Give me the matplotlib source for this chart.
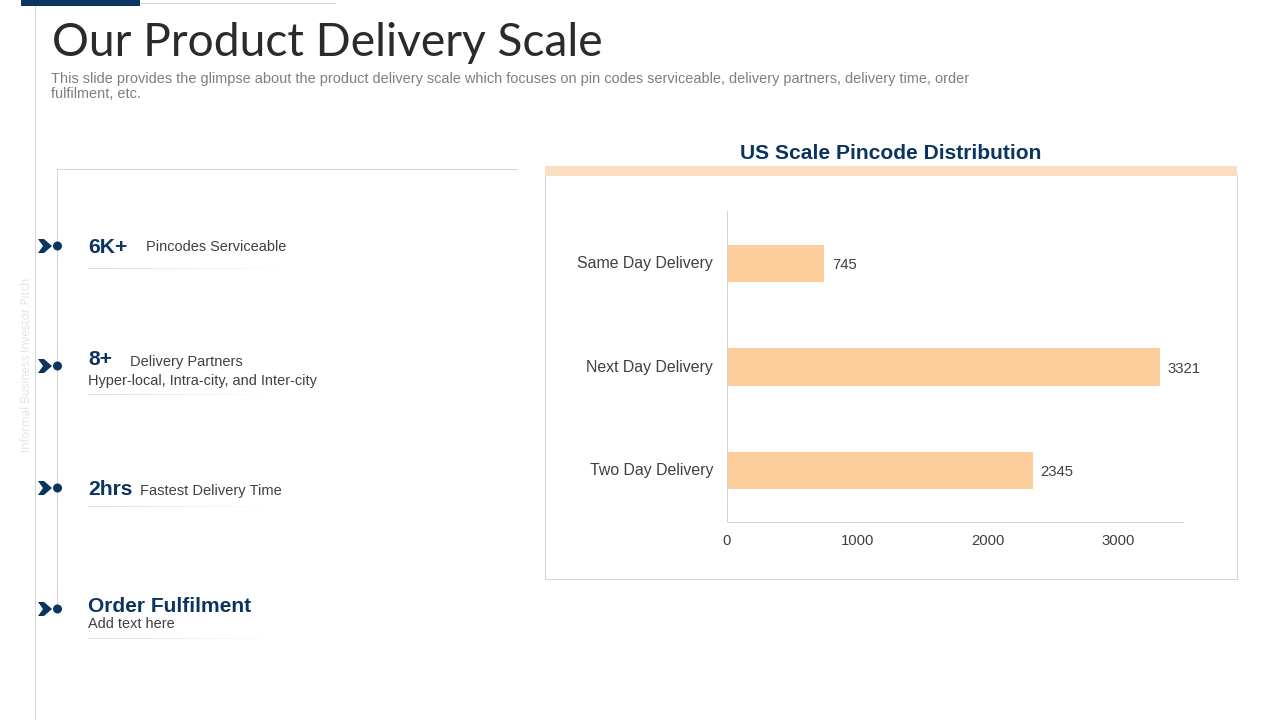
import matplotlib
matplotlib.use("Agg")
import matplotlib.pyplot as plt
from matplotlib.patches import Polygon, Circle, Rectangle

plt.rcParams["font.family"] = ["Liberation Sans", "DejaVu Sans"]

categories = ["Same Day Delivery", "Next Day Delivery", "Two Day Delivery"]
values = [745, 3321, 2345]
x_ticks = [0, 1000, 2000, 3000]

NAVY = "#0B3560"
BAR = "#FDCD9B"
BAND = "#FBDDBF"
LINE = "#D4D4D4"
TEXT = "#404040"
LW = 0.72  # one pixel at dpi 100

fig = plt.figure(figsize=(12.8, 7.2), dpi=100)
fig.patch.set_facecolor("white")

# slide layer in pixel coordinates, y going down
bg = fig.add_axes([0, 0, 1, 1])
bg.set_xlim(0, 1280)
bg.set_ylim(720, 0)
bg.axis("off")

bg.plot([21, 335], [3, 3], color=LINE, lw=LW)
bg.add_patch(Rectangle((21, 0), 119, 6, color=NAVY, lw=0, zorder=3))
bg.plot([35, 35], [0, 720], color=LINE, lw=LW)
bg.plot([57, 57], [169, 609], color=LINE, lw=LW)
bg.plot([57, 517], [169, 169], color=LINE, lw=LW)

bg.text(52, 56, "Our Product Delivery Scale", fontsize=33.2, color="#2B2B2B",
        family="Lato", va="baseline")
bg.text(51, 83, "This slide provides the glimpse about the product delivery scale "
        "which focuses on pin codes serviceable, delivery partners, delivery time, order",
        fontsize=10.48, color="#7F7F7F", va="baseline")
bg.text(51, 98, "fulfilment, etc.", fontsize=10.48, color="#7F7F7F", va="baseline")
bg.text(27, 365, "Informal Business Investor Pitch", fontsize=8.4, color="#E2E2E2",
        rotation=90, ha="center", va="center", family="Open Sans")

# timeline marks and rules under each item
for y, rule_y, rule_end in [(246, 268, 285), (366, 394, 270), (488, 506, 265), (609, 638, 270)]:
    bg.add_patch(Polygon([(38, y - 7), (44, y - 7), (52, y), (44, y + 7), (38, y + 7), (43, y)],
                         color=NAVY, lw=0, zorder=3))
    bg.add_patch(Circle((57.5, y), 4.5, color=NAVY, lw=0, zorder=3))
    n = 30
    for i in range(n):
        x0 = 88 + (rule_end - 88) * i / n
        x1 = 88 + (rule_end - 88) * (i + 1) / n
        bg.plot([x0, x1], [rule_y, rule_y], color=LINE, lw=LW, alpha=0.8 * (1 - i / n),
                solid_capstyle="butt")

bg.text(88, 253, "6K+", fontsize=15.2, fontweight="bold", color=NAVY, va="baseline")
bg.text(146, 251, "Pincodes Serviceable", fontsize=10.45, color=TEXT, va="baseline")
bg.text(88, 365, "8+", fontsize=15.2, fontweight="bold", color=NAVY, va="baseline")
bg.text(130, 366, "Delivery Partners", fontsize=10.5, color=TEXT, va="baseline")
bg.text(88, 385, "Hyper-local, Intra-city, and Inter-city", fontsize=10.45, color=TEXT, va="baseline")
bg.text(88, 495, "2hrs", fontsize=15.2, fontweight="bold", color=NAVY, va="baseline")
bg.text(140, 495, "Fastest Delivery Time", fontsize=10.55, color=TEXT, va="baseline")
bg.text(88, 612, "Order Fulfilment", fontsize=15.1, fontweight="bold", color=NAVY, va="baseline")
bg.text(88, 628, "Add text here", fontsize=10.45, color=TEXT, va="baseline")

# chart panel
bg.text(890.5, 159, "US Scale Pincode Distribution", fontsize=15.15, fontweight="bold",
        color=NAVY, ha="center", va="baseline")
bg.add_patch(Rectangle((545, 175), 692, 404, facecolor="white", edgecolor=LINE, lw=LW))
bg.add_patch(Rectangle((545, 166), 692, 10, color=BAND, lw=0))

# bar chart area, 727-1183 px wide and 211-522 px tall
ax = fig.add_axes([727 / 1280, 1 - 522 / 720, 456 / 1280, 311 / 720])
ax.patch.set_alpha(0)
ys = list(range(len(categories)))
bars = ax.barh(ys, values, height=0.36, color=BAR)
ax.set_xlim(0, 3500)
ax.set_ylim(2.495, -0.505)
ax.set_yticks(ys)
ax.set_yticklabels(categories, fontsize=11.4, color=TEXT, va="center")
ax.set_xticks(x_ticks)
ax.set_xticklabels([str(t) for t in x_ticks], fontsize=10.7, color=TEXT)
ax.tick_params(length=0, axis="both")
ax.tick_params(axis="y", pad=10)
ax.tick_params(axis="x", pad=8.5)
ax.spines[["top", "right"]].set_visible(False)
ax.spines[["left", "bottom"]].set_color(LINE)
ax.spines[["left", "bottom"]].set_linewidth(LW)
for bar, v in zip(bars, values):
    ax.text(v + 60, bar.get_y() + bar.get_height() / 2 + 0.015, str(v), fontsize=10.7,
            color=TEXT, va="center")

fig.savefig("out.png", dpi=100, facecolor="white")
